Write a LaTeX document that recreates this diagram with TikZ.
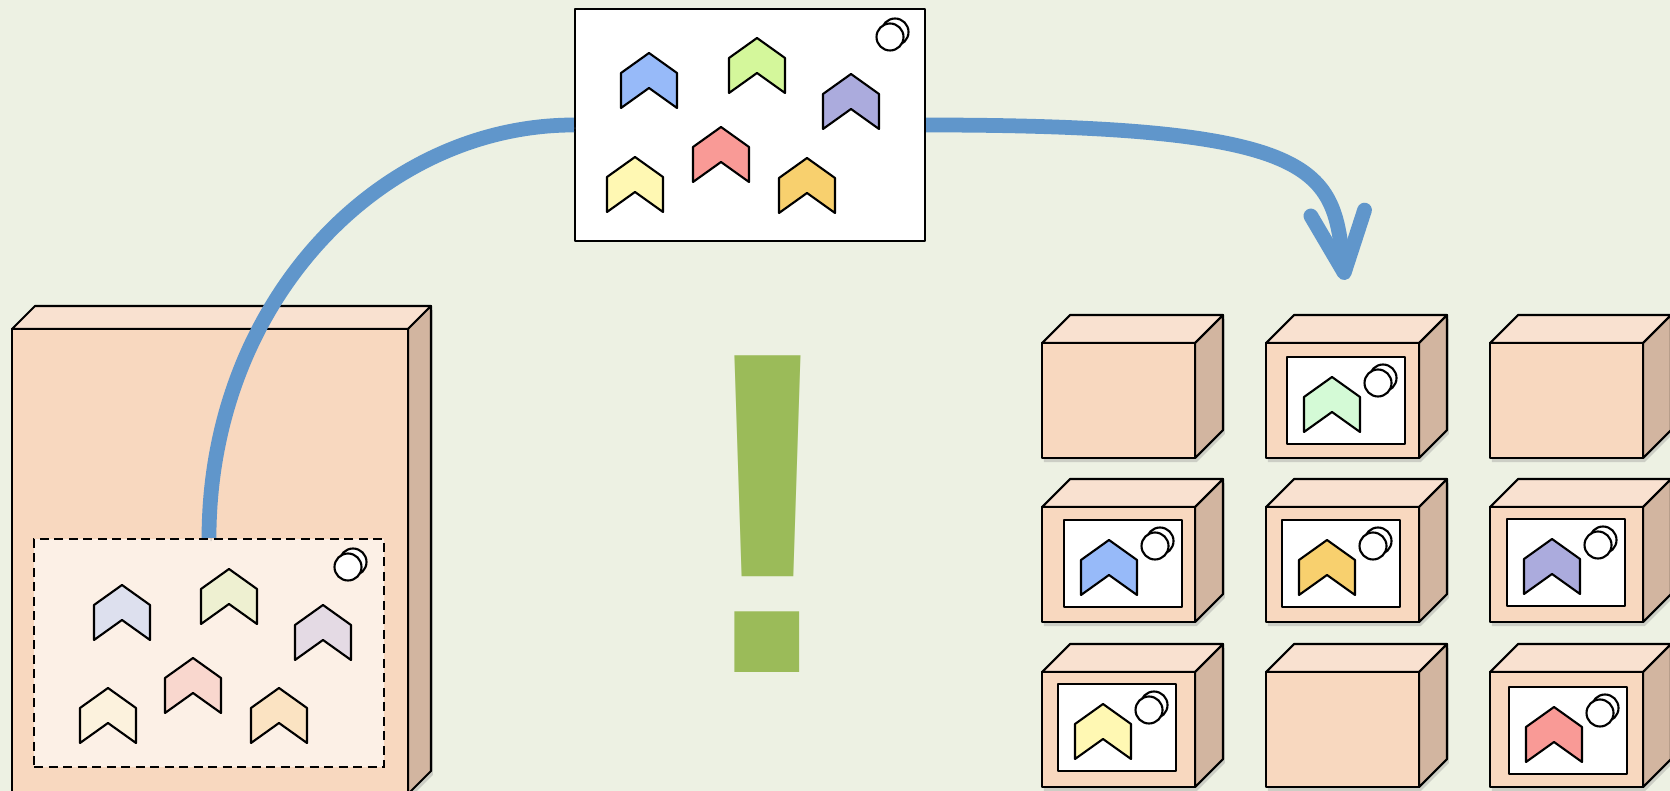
\documentclass[tikz,border=0pt]{standalone}
\usepackage{fontspec}
\usepackage{tikz}
\usetikzlibrary{positioning, arrows.meta, shadows}
\newfontfamily\bangfont{Liberation Sans}

\definecolor{bgcol}{HTML}{EDF1E3}
\definecolor{cratefront}{HTML}{F8D8BF}
\definecolor{cratetop}{HTML}{F9E1D0}
\definecolor{crateside}{HTML}{D2B5A0}
\definecolor{slotfill}{HTML}{FCF0E6}
\definecolor{flowblue}{HTML}{6096CB}
\definecolor{bangcol}{HTML}{9BBB59}
\definecolor{chBlue}{HTML}{97BAF9}
\definecolor{chGreen}{HTML}{D4F79B}
\definecolor{chPurple}{HTML}{ABABDD}
\definecolor{chRed}{HTML}{F99A96}
\definecolor{chYellow}{HTML}{FFF8B3}
\definecolor{chOrange}{HTML}{F8D06E}
\definecolor{chMint}{HTML}{D4FAD6}
\definecolor{fdBlue}{HTML}{DDE0EE}
\definecolor{fdGreen}{HTML}{EEF0D1}
\definecolor{fdPurple}{HTML}{E4DAE4}
\definecolor{fdRed}{HTML}{F9D7CE}
\definecolor{fdYellow}{HTML}{FCF2DD}
\definecolor{fdOrange}{HTML}{FBE3C2}

% box in cavalier view: x, y of front top-left corner, width, height, depth
\newcommand{\crate}[5]{%
	\path[fill=cratefront, drop shadow={shadow xshift=.5pt, shadow yshift=-1.2pt, opacity=.3}]
		(#1,#2) -- ++(#5,-#5) -- ++(#3,0) -- ++(0,#4) -- ++(-#5,#5) -- ++(-#3,0) -- cycle;
	\filldraw[ink, fill=cratetop] (#1,#2) -- ++(#5,-#5) -- ++(#3,0) -- ++(-#5,#5) -- cycle;
	\filldraw[ink, fill=crateside] (#1+#3,#2) -- ++(#5,-#5) -- ++(0,#4) -- ++(-#5,#5) -- cycle;
	\filldraw[ink, fill=cratefront] (#1,#2) rectangle ++(#3,#4);
}

\begin{document}
\begin{tikzpicture}[x=0.1mm, y=-0.1mm,
		ink/.style={draw=black, line width=0.6pt, line join=round},
		flow/.style={draw=flowblue, line width=4.2pt,
			preaction={draw=black!60, opacity=.2, transform canvas={xshift=.6pt, yshift=-.9pt}}},
		card/.style={ink, fill=white, minimum width=35mm, minimum height=23.2mm, inner sep=0pt},
		slot/.style={draw, line width=0.6pt, dash pattern=on 0.9mm off 0.55mm, fill=slotfill,
			minimum width=35mm, minimum height=22.8mm, inner sep=0pt},
		exclaim/.style={font=\bangfont\bfseries\fontsize{131}{131}\selectfont, text=bangcol,
			anchor=base, inner sep=0pt},
		pics/chev/.style={code={
			\filldraw[ink, fill=#1] (-28,20) -- (0,0) -- (28,20) -- (28,55) -- (0,35) -- (-28,55) -- cycle;}},
		pics/dots/.style={code={
			\draw[ink, fill=#1] (5,-5) circle[radius=13.5];
			\draw[ink, fill=#1] (0,0) circle[radius=13.5];}},
		pics/tag/.style={code={
			\draw[ink, fill=white] (0,0) rectangle (118,87);
			\pic at (45,20) {chev=#1};
			\pic at (91,26) {dots=white};}}
	]
	\useasboundingbox (0,0) rectangle (1670,791);
	\fill[bgcol] (0,0) rectangle (1670,791);
	
	% the big box with its slot
	\crate{12}{329}{396}{465}{23}
	\node[slot] (slot) at (209,653) {};
	\pic at (122,585) {chev=fdBlue};
	\pic at (229,569) {chev=fdGreen};
	\pic at (323,605) {chev=fdPurple};
	\pic at (193,658) {chev=fdRed};
	\pic at (108,688) {chev=fdYellow};
	\pic at (279,688) {chev=fdOrange};
	\pic at (348,567) {dots=white};
	
	% the card taken out
	\node[card] (board) at (750,125) {};
	\pic at (649,53) {chev=chBlue};
	\pic at (757,38) {chev=chGreen};
	\pic at (851,74) {chev=chPurple};
	\pic at (721,127) {chev=chRed};
	\pic at (635,157) {chev=chYellow};
	\pic at (807,158) {chev=chOrange};
	\pic at (890,37) {dots=white};
	
	% grid of small boxes
	\foreach \cy in {343,507,672}
		\foreach \cx in {1042,1266,1490}
			{\crate{\cx}{\cy}{153}{115}{28}}
	\pic at (1287,357) {tag=chMint};
	\pic at (1064,520) {tag=chBlue};
	\pic at (1282,520) {tag=chOrange};
	\pic at (1507,519) {tag=chPurple};
	\pic at (1058,684) {tag=chYellow};
	\pic at (1509,687) {tag=chRed};
	
	\coordinate (drop) at (1345,280);
	\draw[flow] (slot.north) .. controls +(0,-235) and +(-195,0) .. (board.west);
	\draw[flow, -{Straight Barb[length=6mm, width=5.4mm, round]}]
		(board.east) .. controls +(400,0) and +(-12,-110) .. (drop);
	
	\node[exclaim] (excl) at (768,673) {!};
\end{tikzpicture}
\end{document}
